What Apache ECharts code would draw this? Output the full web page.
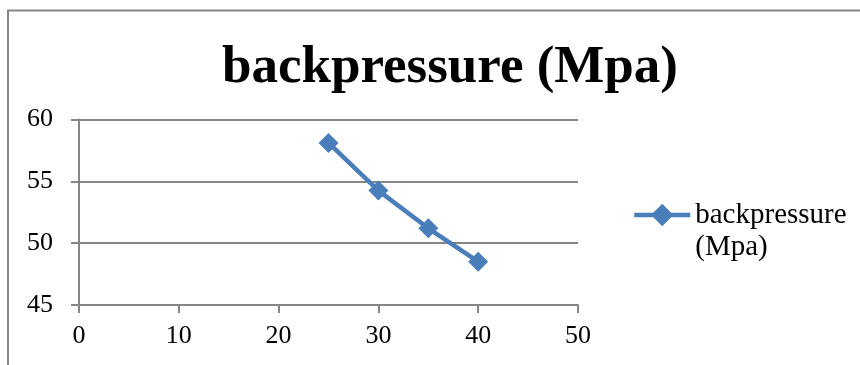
<!DOCTYPE html>
<html>
<head>
<meta charset="utf-8">
<script src="https://cdn.jsdelivr.net/npm/echarts@6/dist/echarts.min.js"></script>
<style>
html,body{margin:0;padding:0;background:#fff;}
#c{width:860px;height:365px;}
</style>
</head>
<body>
<div id="c"></div>
<script>
const titleText = 'backpressure (Mpa)';
const seriesName = 'backpressure (Mpa)';
const legendLabel = ' \nbackpressure\n(Mpa)';
const xValues = [25, 30, 35, 40];
const yValues = [58.1, 54.25, 51.2, 48.5];
const xTicks = { min: 0, max: 50, interval: 10 };
const yTicks = { min: 45, max: 60, interval: 5 };

const font = '"Liberation Serif", "DejaVu Serif", serif';
const axisGray = '#868686';
const lineBlue = '#4a7ebb';

const chart = echarts.init(document.getElementById('c'), null, { renderer: 'canvas' });
chart.setOption({
  animation: false,
  backgroundColor: '#fff',
  title: {
    text: titleText,
    left: 445,
    top: 37,
    textAlign: 'center',
    textStyle: { fontFamily: font, fontWeight: 'bold', fontSize: 53, color: '#000' }
  },
  graphic: [{
    type: 'polyline',
    shape: { points: [[8, 365], [8, 10.5], [860, 10.5]] },
    style: { stroke: axisGray, lineWidth: 2, fill: null },
    silent: true
  }],
  legend: {
    left: 632,
    top: 167,
    padding: 0,
    orient: 'vertical',
    itemWidth: 56,
    itemHeight: 28,
    formatter: function () { return legendLabel; },
    lineStyle: { width: 4.5, color: lineBlue },
    itemStyle: { color: lineBlue },
    textStyle: { fontFamily: font, fontSize: 29, color: '#000', lineHeight: 32 },
    data: [seriesName]
  },
  grid: { left: 79, right: 282, top: 119.5, bottom: 60, containLabel: false },
  xAxis: {
    type: 'value',
    min: xTicks.min, max: xTicks.max, interval: xTicks.interval,
    axisLine: { show: true, lineStyle: { color: axisGray, width: 2 } },
    axisTick: { show: true, length: 8, lineStyle: { color: axisGray, width: 2 } },
    axisLabel: { fontFamily: font, fontSize: 26, color: '#000', margin: 18 },
    splitLine: { show: false }
  },
  yAxis: {
    type: 'value',
    min: yTicks.min, max: yTicks.max, interval: yTicks.interval,
    axisLine: { show: true, lineStyle: { color: axisGray, width: 2 } },
    axisTick: { show: true, length: 8, lineStyle: { color: axisGray, width: 2 } },
    axisLabel: { fontFamily: font, fontSize: 26, color: '#000', margin: 26 },
    splitLine: { show: true, lineStyle: { color: axisGray, width: 2 } }
  },
  series: [{
    name: seriesName,
    type: 'line',
    data: xValues.map((x, i) => [x, yValues[i]]),
    symbol: 'diamond',
    symbolSize: 20,
    lineStyle: { color: lineBlue, width: 4.5 },
    itemStyle: { color: lineBlue }
  }]
});
</script>
</body>
</html>
